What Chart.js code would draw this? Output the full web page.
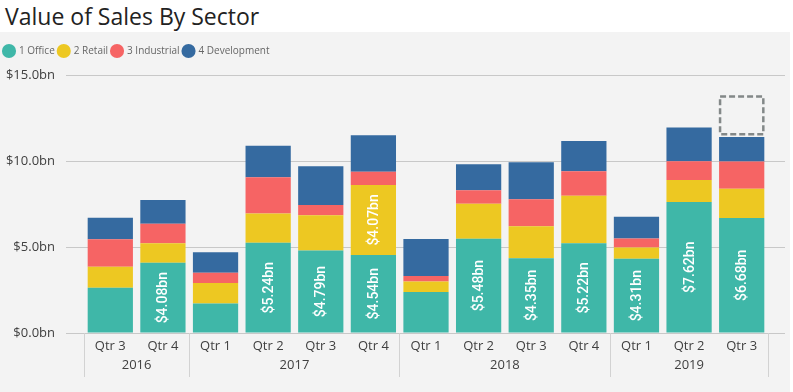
<!DOCTYPE html>
<html>
<head>
<meta charset="utf-8">
<script src="https://cdn.jsdelivr.net/npm/chart.js@4.4.1/dist/chart.umd.min.js"></script>
<style>
  body { margin: 0; width: 793px; height: 392px; background: #fff; position: relative; overflow: hidden; }
  #title { position: absolute; left: 5px; top: 0; line-height: 32px; font: 400 23px "Open Sans"; color: #222; white-space: nowrap; }
  #panel { position: absolute; left: 0; top: 32px; width: 790px; height: 360px; background: #f3f3f3; }
</style>
</head>
<body>
<div id="title">Value of Sales By Sector</div>
<div id="panel"><canvas id="myChart"></canvas></div>
<script>
// Chart data ($bn)
const quarters = ["Qtr 3", "Qtr 4", "Qtr 1", "Qtr 2", "Qtr 3", "Qtr 4", "Qtr 1", "Qtr 2", "Qtr 3", "Qtr 4", "Qtr 1", "Qtr 2", "Qtr 3"];
const years = ["2016", "2016", "2017", "2017", "2017", "2017", "2018", "2018", "2018", "2018", "2019", "2019", "2019"];
const office = [2.63, 4.08, 1.72, 5.24, 4.79, 4.54, 2.38, 5.48, 4.35, 5.22, 4.31, 7.62, 6.68];
const retail = [1.22, 1.14, 1.18, 1.71, 2.05, 4.07, 0.61, 2.03, 1.85, 2.76, 0.66, 1.28, 1.71];
const industrial = [1.60, 1.13, 0.61, 2.10, 0.60, 0.77, 0.32, 0.79, 1.57, 1.42, 0.53, 1.09, 1.58];
const development = [1.25, 1.38, 1.19, 1.83, 2.26, 2.12, 2.16, 1.51, 2.16, 1.77, 1.26, 1.96, 1.42];
const yTicks = [0, 5, 10, 15];

// dashed selection box above the last bar
const markerIndex = 12;
const markerRange = [11.56, 13.75];

const gridColor = "#c8c8c8";
const labelMin = 3; // segments smaller than this get no data label

const money = (v, d) => "$" + v.toFixed(d) + "bn";

const extras = {
  id: "extras",
  beforeInit(chart) {
    // leave some room between the legend row and the $15.0bn line
    const legend = chart.legend;
    const fit = legend.fit;
    legend.fit = function () {
      fit.call(this);
      this.height += 9;
    };
  },
  beforeDatasetsDraw(chart) {
    // gridlines run a little past the last category
    const { ctx, chartArea, scales: { y } } = chart;
    ctx.save();
    ctx.strokeStyle = gridColor;
    ctx.lineWidth = 1;
    y.ticks.forEach(t => {
      const py = Math.round(y.getPixelForValue(t.value) - 0.5) + 0.5;
      ctx.beginPath();
      ctx.moveTo(chartArea.right, py);
      ctx.lineTo(chartArea.right + 17, py);
      ctx.stroke();
    });
    ctx.restore();
  },
  afterDatasetsDraw(chart) {
    const { ctx, scales: { y } } = chart;
    ctx.save();
    ctx.fillStyle = "#fff";
    ctx.font = '500 14px "Roboto"';
    ctx.textAlign = "center";
    ctx.textBaseline = "middle";
    chart.data.datasets.forEach((ds, i) => {
      chart.getDatasetMeta(i).data.forEach((bar, j) => {
        const v = ds.data[j];
        if (v < labelMin) return;
        ctx.save();
        ctx.translate(bar.x, (bar.y + bar.base) / 2);
        ctx.rotate(-Math.PI / 2);
        ctx.fillText(money(v, 2), 0, 1);
        ctx.restore();
      });
    });

    const bar = chart.getDatasetMeta(0).data[markerIndex];
    const top = y.getPixelForValue(markerRange[1]);
    const bottom = y.getPixelForValue(markerRange[0]);
    ctx.strokeStyle = "#838888";
    ctx.lineWidth = 2.5;
    ctx.setLineDash([6, 3]);
    ctx.strokeRect(bar.x - bar.width / 2 + 1, top, bar.width - 2, bottom - top);
    ctx.restore();
  },
  afterDraw(chart) {
    // year row and group separators under the quarter labels
    const { ctx, chartArea, scales: { x } } = chart;
    const half = (x.getPixelForValue(1) - x.getPixelForValue(0)) / 2;
    ctx.save();
    ctx.strokeStyle = "#d2d2d2";
    ctx.lineWidth = 1;
    ctx.fillStyle = "#404040";
    ctx.font = '13px "Open Sans"';
    ctx.textAlign = "center";
    ctx.textBaseline = "middle";
    let start = 0;
    for (let i = 1; i <= years.length; i++) {
      if (i < years.length && years[i] === years[start]) continue;
      const left = x.getPixelForValue(start) - half;
      const right = x.getPixelForValue(i - 1) + half;
      [left, right].forEach(px => {
        const p = Math.round(px - 0.5) + 0.5;
        ctx.beginPath();
        ctx.moveTo(p, chartArea.bottom);
        ctx.lineTo(p, chartArea.bottom + 44);
        ctx.stroke();
      });
      ctx.fillText(years[start], (left + right) / 2, chartArea.bottom + 32);
      start = i;
    }
    ctx.restore();
  }
};

const seriesStyle = (label, data, color) => ({
  label: label,
  data: data,
  backgroundColor: color,
  borderWidth: 0,
  categoryPercentage: 1,
  barPercentage: 0.86,
});

new Chart(document.getElementById("myChart"), {
  type: "bar",
  data: {
    labels: quarters,
    datasets: [
      seriesStyle("1 Office", office, "#3fb7a8"),
      seriesStyle("2 Retail", retail, "#edc822"),
      seriesStyle("3 Industrial", industrial, "#f66464"),
      seriesStyle("4 Development", development, "#356aa0"),
    ],
  },
  options: {
    responsive: true,
    maintainAspectRatio: false,
    animation: false,
    layout: { padding: { left: 0, right: 22, top: 10, bottom: 0 } },
    plugins: {
      tooltip: { enabled: false },
      legend: {
        position: "top",
        align: "start",
        labels: {
          usePointStyle: true,
          pointStyle: "circle",
          boxWidth: 10,
          boxHeight: 10,
          padding: 4,
          color: "#666",
          font: { family: "Open Sans", size: 10 },
        },
      },
    },
    scales: {
      x: {
        stacked: true,
        grid: { display: false, drawTicks: false },
        border: { display: false },
        ticks: { color: "#404040", font: { family: "Open Sans", size: 13 }, padding: 5 },
        afterFit(scale) { scale.height = 59; },
      },
      y: {
        stacked: true,
        min: 0,
        max: 15,
        afterBuildTicks(scale) { scale.ticks = yTicks.map(v => ({ value: v })); },
        grid: { color: gridColor, tickLength: 18 },
        border: { display: false },
        ticks: {
          color: "#404040",
          font: { family: "Open Sans", size: 13 },
          padding: 11,
          callback: v => money(v, 1),
        },
        afterFit(scale) { scale.width = 84; },
      },
    },
  },
  plugins: [extras],
});
</script>
</body>
</html>
